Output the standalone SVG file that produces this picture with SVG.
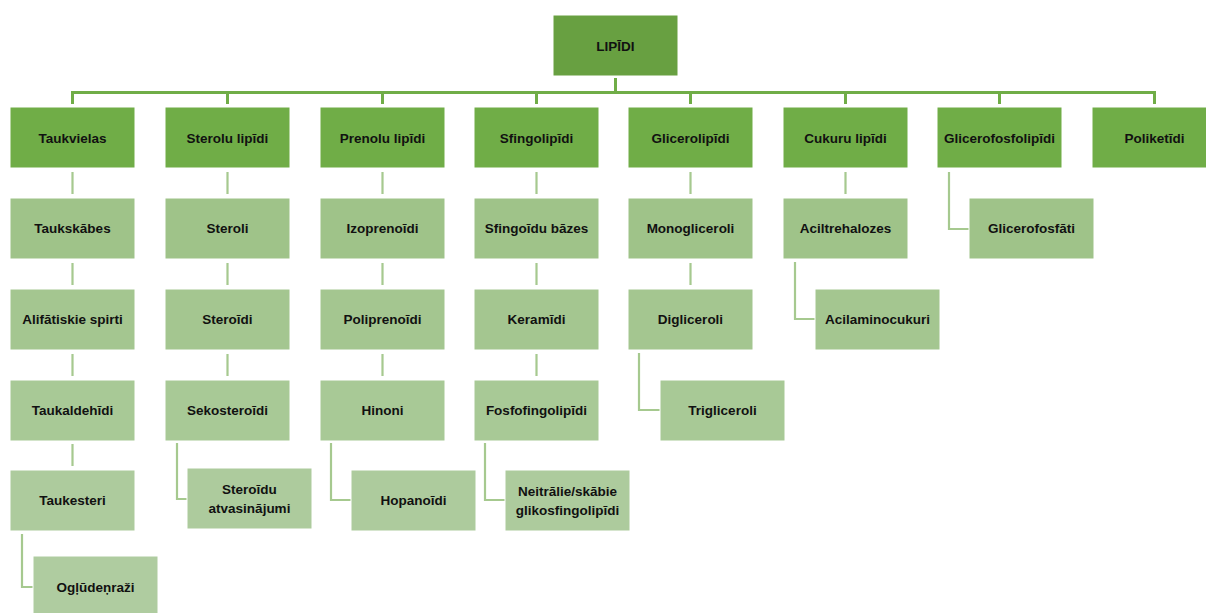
<svg xmlns="http://www.w3.org/2000/svg" width="1206" height="613" viewBox="0 0 1206 613">
<style>
rect{stroke:#ffffff;stroke-width:1}
.r0{fill:#68a041}
.l1{fill:#70ad47}
.l2{fill:#9fc389}
.l3{fill:#a4c690}
.l4{fill:#a8c996}
.l5{fill:#adcb9d}
.l6{fill:#afcca0}
text{font-family:"Liberation Sans",Arial,sans-serif;font-weight:bold;font-size:13.5px;fill:#111;text-anchor:middle;dominant-baseline:central}
.top{fill:none;stroke:#70ad47;stroke-width:3}
.sub{fill:none;stroke:#a6c98f;stroke-width:2.2}
</style>
<rect width="1206" height="613" fill="#ffffff" style="stroke:none"/>
<g id="connectors">
<path class="top" d="M615.5 78V92.5M72.5 104V92.5H1154.5V104M227.5 92.5V104M382.5 92.5V104M536.5 92.5V104M690.5 92.5V104M845.5 92.5V104M999.5 92.5V104"/>
<path class="sub" d="M72.5 172V194M72.5 263V285M72.5 354V376M72.5 444V466M22 534V587H33"/>
<path class="sub" d="M227.5 172V194M227.5 263V285M227.5 354V376M177 443V499H187"/>
<path class="sub" d="M382.5 172V194M382.5 263V285M382.5 354V376M331 443V500H351"/>
<path class="sub" d="M536.5 172V194M536.5 263V285M536.5 354V376M485 443V500H505"/>
<path class="sub" d="M690.5 172V194M690.5 263V285M639 353V410H660"/>
<path class="sub" d="M845.5 172V194M795 262V319H815"/>
<path class="sub" d="M949 172V229H969"/>
</g>
<g id="root"><rect class="r0" x="553" y="15" width="125" height="61"/><text x="615.5" y="46">LIPĪDI</text></g>

<g id="taukvielas"><rect class="l1" x="10" y="107" width="125" height="61"/><text x="72.5" y="138">Taukvielas</text></g>
<g id="taukskabes"><rect class="l2" x="10" y="198" width="125" height="61"/><text x="72.5" y="228.5">Taukskābes</text></g>
<g id="alifatiskie"><rect class="l3" x="10" y="289" width="125" height="61"/><text x="72.5" y="319.5">Alifātiskie spirti</text></g>
<g id="taukaldehidi"><rect class="l4" x="10" y="380" width="125" height="61"/><text x="72.5" y="410.5">Taukaldehīdi</text></g>
<g id="taukesteri"><rect class="l5" x="10" y="470" width="125" height="61"/><text x="72.5" y="500.5">Taukesteri</text></g>
<g id="ogludenrazi"><rect class="l6" x="33" y="556" width="125" height="61"/><text x="95.5" y="587">Ogļūdeņraži</text></g>

<g id="sterolu"><rect class="l1" x="165" y="107" width="125" height="61"/><text x="227.5" y="138">Sterolu lipīdi</text></g>
<g id="steroli"><rect class="l2" x="165" y="198" width="125" height="61"/><text x="227.5" y="228.5">Steroli</text></g>
<g id="steroidi"><rect class="l3" x="165" y="289" width="125" height="61"/><text x="227.5" y="319.5">Steroīdi</text></g>
<g id="sekosteroidi"><rect class="l4" x="165" y="380" width="125" height="61"/><text x="227.5" y="410.5">Sekosteroīdi</text></g>
<g id="steroidu-atv"><rect class="l5" x="187" y="468" width="125" height="61"/><text x="249.5" y="489.5">Steroīdu</text><text x="249.5" y="508.5">atvasinājumi</text></g>

<g id="prenolu"><rect class="l1" x="320" y="107" width="125" height="61"/><text x="382.5" y="138">Prenolu lipīdi</text></g>
<g id="izoprenoidi"><rect class="l2" x="320" y="198" width="125" height="61"/><text x="382.5" y="228.5">Izoprenoīdi</text></g>
<g id="poliprenoidi"><rect class="l3" x="320" y="289" width="125" height="61"/><text x="382.5" y="319.5">Poliprenoīdi</text></g>
<g id="hinoni"><rect class="l4" x="320" y="380" width="125" height="61"/><text x="382.5" y="410.5">Hinoni</text></g>
<g id="hopanoidi"><rect class="l5" x="351" y="470" width="125" height="61"/><text x="413.5" y="500.5">Hopanoīdi</text></g>

<g id="sfingolipidi"><rect class="l1" x="474" y="107" width="125" height="61"/><text x="536.5" y="138">Sfingolipīdi</text></g>
<g id="sfingoidu"><rect class="l2" x="474" y="198" width="125" height="61"/><text x="536.5" y="228.5">Sfingoīdu bāzes</text></g>
<g id="keramidi"><rect class="l3" x="474" y="289" width="125" height="61"/><text x="536.5" y="319.5">Keramīdi</text></g>
<g id="fosfofingo"><rect class="l4" x="474" y="380" width="125" height="61"/><text x="536.5" y="410.5">Fosfofingolipīdi</text></g>
<g id="neitralie"><rect class="l5" x="505" y="470" width="125" height="61"/><text x="567.5" y="491">Neitrālie/skābie</text><text x="567.5" y="510">glikosfingolipīdi</text></g>

<g id="glicerolipidi"><rect class="l1" x="628" y="107" width="125" height="61"/><text x="690.5" y="138">Glicerolipīdi</text></g>
<g id="monogliceroli"><rect class="l2" x="628" y="198" width="125" height="61"/><text x="690.5" y="228.5">Monogliceroli</text></g>
<g id="digliceroli"><rect class="l3" x="628" y="289" width="125" height="61"/><text x="690.5" y="319.5">Digliceroli</text></g>
<g id="trigliceroli"><rect class="l4" x="660" y="380" width="125" height="61"/><text x="722.5" y="410.5">Trigliceroli</text></g>

<g id="cukuru"><rect class="l1" x="783" y="107" width="125" height="61"/><text x="845.5" y="138">Cukuru lipīdi</text></g>
<g id="aciltrehalozes"><rect class="l2" x="783" y="198" width="125" height="61"/><text x="845.5" y="228.5">Aciltrehalozes</text></g>
<g id="acilaminocukuri"><rect class="l3" x="815" y="289" width="125" height="61"/><text x="877.5" y="319.5">Acilaminocukuri</text></g>

<g id="glicerofosfolipidi"><rect class="l1" x="937" y="107" width="125" height="61"/><text x="999.5" y="138">Glicerofosfolipīdi</text></g>
<g id="glicerofosfati"><rect class="l2" x="969" y="198" width="125" height="61"/><text x="1031.5" y="228.5">Glicerofosfāti</text></g>

<g id="poliketidi"><rect class="l1" x="1092" y="107" width="125" height="61"/><text x="1154.5" y="138">Poliketīdi</text></g>
</svg>
